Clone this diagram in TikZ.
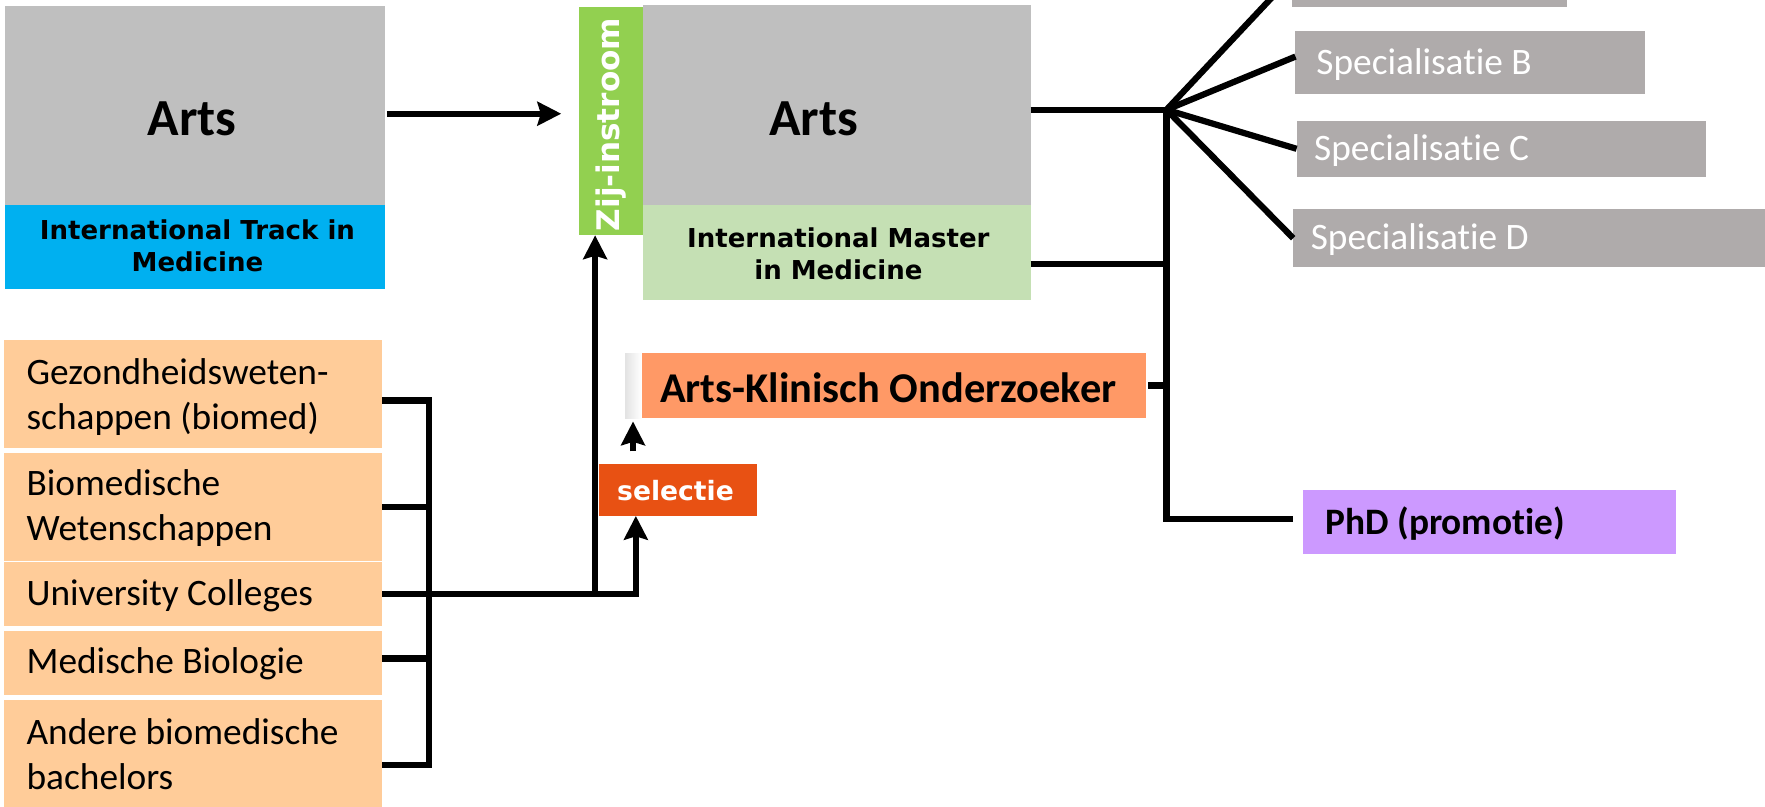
\documentclass[tikz,border=0pt]{standalone}
\usepackage{fontspec}
\setmainfont{Carlito}[Ligatures={NoCommon}]
\newfontfamily\vfont{DejaVu Sans}
\usetikzlibrary{arrows.meta,calc}
\definecolor{artsgray}{HTML}{BFBFBF}
\definecolor{itmblue}{HTML}{00B0F0}
\definecolor{zijgreen}{HTML}{92D050}
\definecolor{imgreen}{HTML}{C5E0B4}
\definecolor{peach}{HTML}{FFCC99}
\definecolor{akoorange}{HTML}{FF9966}
\definecolor{selred}{HTML}{E85113}
\definecolor{specgray}{HTML}{AFABAB}
\definecolor{phdpurple}{HTML}{CC99FF}
\begin{document}
\begin{tikzpicture}[x=1pt,y=-1pt,
  box/.style={draw=none, inner sep=0pt, outer sep=0pt, anchor=north west},
  conn/.style={line width=5.5pt, draw=black, line join=miter},
  arr/.style={conn, -{Stealth[length=21pt,width=21pt,inset=3pt]}},
  bigtxt/.style={anchor=base, font=\bfseries\fontsize{46}{55}\selectfont},
  vtxt/.style={font=\vfont\bfseries\fontsize{23}{28}\selectfont},
  bachtxt/.style={anchor=base west, font=\fontsize{33}{40}\selectfont},
  spectxt/.style={anchor=base west, text=white, font=\fontsize{33}{40}\selectfont},
]
\useasboundingbox (0,0) rectangle (1560,713);

% left column top
\node[box, fill=artsgray, minimum width=336pt, minimum height=176pt] (artsL) at (4,5) {};
\node[box, fill=itmblue, minimum width=336pt, minimum height=74pt] (itm) at (4,181) {};
\node[bigtxt] (artsLt) at (170,120) {Arts};
\node[vtxt, anchor=base] (itmt) at (174.5,212) {\begin{tabular}[t]{@{}c@{}}International Track in\\Medicine\end{tabular}};

% zij-instroom bar
\node[box, fill=zijgreen, minimum width=56pt, minimum height=202pt] (zij) at (512,6) {};
\node[rotate=90, text=white, font=\vfont\bfseries\fontsize{27.5}{32}\selectfont] (zijt) at (540,110) {Zij-instroom};

% middle column
\node[box, fill=artsgray, minimum width=343pt, minimum height=177pt] (artsM) at (568,4) {};
\node[box, fill=imgreen, minimum width=343pt, minimum height=84pt] (imm) at (568,181) {};
\node[bigtxt] (artsMt) at (719,120) {Arts};
\node[vtxt, anchor=base] (immt) at (741,219) {\begin{tabular}[t]{@{}c@{}}International Master\\in Medicine\end{tabular}};

% Arts-Klinisch Onderzoeker
\node[box, left color=gray!22, right color=white, minimum width=14.5pt, minimum height=57.5pt] (akostrip) at (552.5,312) {};
\node[box, fill=akoorange, minimum width=446pt, minimum height=57.5pt] (ako) at (567,312) {};
\node[anchor=base west, font=\bfseries\fontsize{37.5}{45}\selectfont] (akot) at (580,356) {Arts-Klinisch Onderzoeker};

% selectie
\node[box, fill=selred, minimum width=139.5pt, minimum height=46pt] (sel) at (529.5,410) {};
\node[anchor=base west, text=white, font=\vfont\bfseries\fontsize{23.5}{28}\selectfont] (selt) at (542,442) {selectie};

% specialisations
\node[box, fill=specgray, minimum width=243pt, minimum height=55.5pt] (specA) at (1142,-49) {};
\node[box, fill=specgray, minimum width=309pt, minimum height=56pt] (specB) at (1145,27.5) {};
\node[box, fill=specgray, minimum width=362pt, minimum height=49pt] (specC) at (1146,107) {};
\node[box, fill=specgray, minimum width=420pt, minimum height=51pt] (specD) at (1143,185) {};
\node[spectxt] (specBt) at (1160,65.5) {Specialisatie B};
\node[spectxt] (specCt) at (1158,141.5) {Specialisatie C};
\node[spectxt] (specDt) at (1155,220.5) {Specialisatie D};

% PhD
\node[box, fill=phdpurple, minimum width=329pt, minimum height=57pt] (phd) at (1152,433) {};
\node[anchor=base west, font=\bfseries\fontsize{33}{40}\selectfont] (phdt) at (1168,472) {PhD (promotie)};

% bachelors
\node[box, fill=peach, minimum width=334.5pt, minimum height=95.5pt] (bach1) at (3.5,300.5) {};
\node[box, fill=peach, minimum width=334.5pt, minimum height=96pt] (bach2) at (3.5,400) {};
\node[box, fill=peach, minimum width=334.5pt, minimum height=56pt] (bach3) at (3.5,497) {};
\node[box, fill=peach, minimum width=334.5pt, minimum height=56pt] (bach4) at (3.5,558) {};
\node[box, fill=peach, minimum width=334.5pt, minimum height=96pt] (bach5) at (3.5,619) {};
\node[bachtxt] (b1t) at (20,340) {\begin{tabular}[t]{@{}l@{}}Gezondheidsweten-\\schappen (biomed)\end{tabular}};
\node[bachtxt] (b2t) at (20,438) {\begin{tabular}[t]{@{}l@{}}Biomedische\\Wetenschappen\end{tabular}};
\node[bachtxt] (b3t) at (20,535.5) {University Colleges};
\node[bachtxt] (b4t) at (20,595) {Medische Biologie};
\node[bachtxt] (b5t) at (20,658) {\begin{tabular}[t]{@{}l@{}}Andere biomedische\\bachelors\end{tabular}};

% helper coordinates
\coordinate (J) at (1031,97);
\coordinate (B) at (379,0);
\coordinate (c0) at (526,525);
\coordinate (c1) at (562,525);
\coordinate (c2) at (559.5,0);
\coordinate (la) at ([yshift=-7.5pt]artsL.east);
\coordinate (ma) at ([yshift=-4.5pt]artsM.east);
\coordinate (immout) at ([yshift=-10pt]imm.east);
\coordinate (phdin) at ([yshift=2.5pt]phd.west);
\coordinate (t1) at ([yshift=-5.75pt]bach1.east);
\coordinate (t2) at (bach2.east);
\coordinate (t3) at (bach3.east);
\coordinate (t4) at ([yshift=4pt]bach4.east);
\coordinate (t5) at ([yshift=-9pt]bach5.east);

% connectors
\draw[arr, shorten <=2pt, shorten >=16pt] (la) -- (la -| zij.west);
\draw[conn] (ma) -- (J);
\draw[conn] (J) -- (specA.west);
\draw[conn] (J) -- ([yshift=5.5pt]specB.west);
\draw[conn] (J) -- (specC.west);
\draw[conn] (J) -- (specD.west);
\draw[conn, shorten >=9pt] ([yshift=2pt]J) -- (J |- phdin) -- (phdin);
\draw[conn] (immout) -- (immout -| J);
\draw[conn, shorten <=2pt] (ako.east) -- (ako.east -| J);

\draw[conn] (t1) -- (t1 -| B) -- (t5 -| B) -- (t5);
\draw[conn] (t2) -- (t2 -| B);
\draw[conn] (t4) -- (t4 -| B);
\draw[arr] (t3) -- (c1) -- (c1 |- sel.south);
\draw[arr] (c0) -- (c0 |- zij.south);
\draw[arr, shorten <=11pt, shorten >=3pt] (c2 |- sel.north) -- (c2 |- akostrip.south);
\end{tikzpicture}
\end{document}
